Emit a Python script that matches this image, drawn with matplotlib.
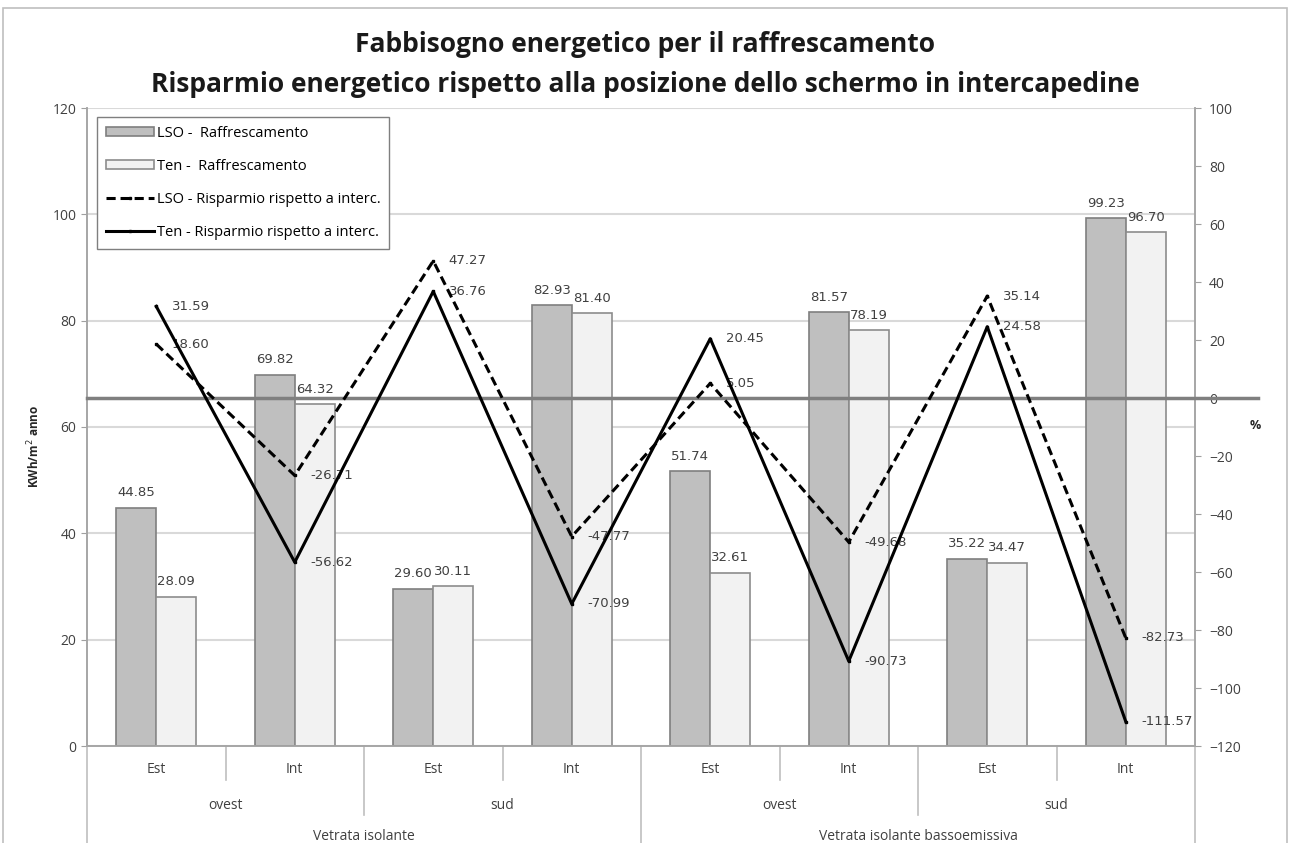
import matplotlib
matplotlib.use("Agg")
import matplotlib.pyplot as plt
import matplotlib.patches as mpatches
import numpy as np

# data
exposures = ["Est", "Int", "Est", "Int", "Est", "Int", "Est", "Int"]
orientations = ["ovest", "sud", "ovest", "sud"]
glazings = ["Vetrata isolante", "Vetrata isolante bassoemissiva"]

lso_cooling = [44.85, 69.82, 29.60, 82.93, 51.74, 81.57, 35.22, 99.23]
ten_cooling = [28.09, 64.32, 30.11, 81.40, 32.61, 78.19, 34.47, 96.70]
lso_saving = [18.60, -26.71, 47.27, -47.77, 5.05, -49.68, 35.14, -82.73]
ten_saving = [31.59, -56.62, 36.76, -70.99, 20.45, -90.73, 24.58, -111.57]

plt.rcParams["font.family"] = ["Open Sans", "DejaVu Sans"]

fig = plt.figure(figsize=(12.9, 8.43), dpi=100)
ax = fig.add_axes([87 / 1290, 1 - 746 / 843, (1195 - 87) / 1290, (746 - 108) / 843])
ax2 = ax.twinx()

x = np.arange(len(exposures))
w = 0.29

b1 = ax.bar(x - w / 2, lso_cooling, w, color="#bfbfbf", edgecolor="#7f7f7f",
            linewidth=1.2, zorder=3, label="LSO -  Raffrescamento")
b2 = ax.bar(x + w / 2, ten_cooling, w, color="#f2f2f2", edgecolor="#8c8c8c",
            linewidth=1.2, zorder=3, label="Ten -  Raffrescamento")
for xi, v in zip(x - w / 2, lso_cooling):
    ax.annotate(f"{v:.2f}", (xi, v), xytext=(0, 6), textcoords="offset points",
                ha="center", va="bottom", fontsize=9.5, color="#404040",
                family="DejaVu Sans", zorder=6)
for xi, v in zip(x + w / 2, ten_cooling):
    ax.annotate(f"{v:.2f}", (xi, v), xytext=(0, 6), textcoords="offset points",
                ha="center", va="bottom", fontsize=9.5, color="#404040",
                family="DejaVu Sans", zorder=6)

ax.set_xlim(-0.5, 7.5)
ax.set_ylim(0, 120)
ax.set_yticks(range(0, 121, 20))
ax.yaxis.grid(True, color="#d9d9d9", linewidth=1.5, zorder=0)
ax.set_axisbelow(True)
ax.set_xticks([])
ax.tick_params(axis="y", length=4, color="#a0a0a0", labelsize=10, labelcolor="#404040")
ax.set_ylabel("KWh/m$^2$ anno", fontsize=8.5, fontweight="bold", labelpad=8, color="#262626")
ax.yaxis.set_label_coords(-0.040, 0.47)

l1, = ax2.plot(x, lso_saving, color="black", linestyle=(0, (3, 1.6)), linewidth=2.2,
               marker="s", markersize=2, zorder=5, label="LSO - Risparmio rispetto a interc.")
l2, = ax2.plot(x, ten_saving, color="black", linewidth=2.2,
               marker="s", markersize=2, zorder=5, label="Ten - Risparmio rispetto a interc.")
for xi, v in zip(x, lso_saving):
    ax2.annotate(f"{v:.2f}", (xi, v), xytext=(11, 0), textcoords="offset points",
                 ha="left", va="center", fontsize=9.5, color="#404040", family="DejaVu Sans")
for xi, v in zip(x, ten_saving):
    ax2.annotate(f"{v:.2f}", (xi, v), xytext=(11, 0), textcoords="offset points",
                 ha="left", va="center", fontsize=9.5, color="#404040", family="DejaVu Sans")
ax2.set_ylim(-120, 100)
ax2.set_yticks(range(-120, 101, 20))
ax2.tick_params(axis="y", length=4, color="#a0a0a0", labelsize=10, labelcolor="#404040", pad=6)
ax2.axhline(0, xmin=0, xmax=1.057, color="#7f7f7f", linewidth=2.5, clip_on=False, zorder=4)
ax2.text(1.054, 0.503, "%", transform=ax2.transAxes, fontsize=9, fontweight="bold",
         color="#262626", ha="center", va="center")

for a in (ax, ax2):
    a.spines["top"].set_visible(False)
    for s in ("left", "right", "bottom"):
        a.spines[s].set_color("#a6a6a6")
        a.spines[s].set_linewidth(1.2)

# multi-level category axis
tr = ax.get_xaxis_transform()
for i, lab in enumerate(exposures):
    ax.text(i, -0.0376, lab, transform=tr, ha="center", va="center", fontsize=10, color="#404040")
for i, lab in enumerate(orientations):
    ax.text(2 * i + 0.5, -0.0925, lab, transform=tr, ha="center", va="center", fontsize=10, color="#404040")
for i, lab in enumerate(glazings):
    ax.text(4 * i + 1.5, -0.1426, lab, transform=tr, ha="center", va="center", fontsize=10, color="#404040")
for xs in (0.5, 2.5, 4.5, 6.5):
    ax.plot([xs, xs], [0, -0.053], transform=tr, color="#bfbfbf", linewidth=1.2, clip_on=False)
for xs in (1.5, 5.5):
    ax.plot([xs, xs], [0, -0.108], transform=tr, color="#bfbfbf", linewidth=1.2, clip_on=False)
for xs in (-0.5, 3.5, 7.5):
    ax.plot([xs, xs], [0, -0.2], transform=tr, color="#bfbfbf", linewidth=1.2, clip_on=False)

ax2.legend([b1, b2, l1, l2], [b1.get_label(), b2.get_label(), l1.get_label(), l2.get_label()],
           loc="upper left", bbox_to_anchor=(0.009, 0.986), borderaxespad=0,
           fontsize=10.5, labelspacing=1.25, handlelength=3.3, handleheight=0.6,
           handletextpad=0.2, fancybox=False, edgecolor="#7f7f7f", framealpha=1,
           borderpad=0.6)

fig.text(0.5, 1 - 45 / 843, "Fabbisogno energetico per il raffrescamento",
         ha="center", va="center", fontsize=19, fontweight="bold", color="#1a1a1a")
fig.text(0.5, 1 - 84 / 843, "Risparmio energetico rispetto alla posizione dello schermo in intercapedine",
         ha="center", va="center", fontsize=19, fontweight="bold", color="#1a1a1a")

fig.add_artist(mpatches.Rectangle((3 / 1290, -0.01), 1284 / 1290, 1 - 8 / 843 + 0.01,
                                  transform=fig.transFigure, fill=False,
                                  edgecolor="#bfbfbf", linewidth=1.2))

fig.savefig("out.png", dpi=100)
